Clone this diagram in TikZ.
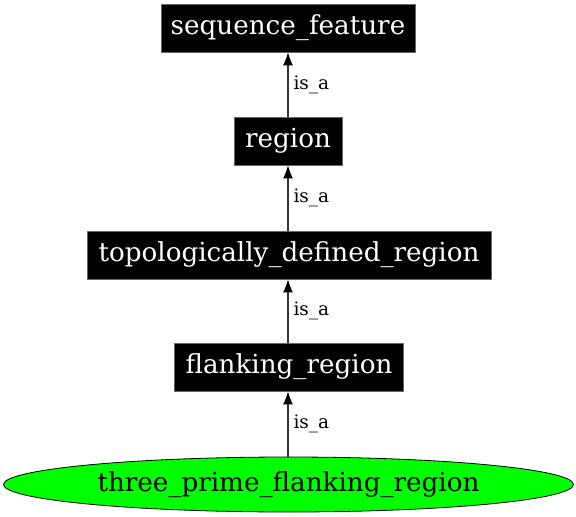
\documentclass[tikz,border=0pt]{standalone}
\usepackage{fontspec}
\setmainfont{DejaVu Serif}
\usetikzlibrary{arrows.meta,shapes.geometric}
\begin{document}
\begin{tikzpicture}[x=1pt,y=-1pt,
  termbox/.style={rectangle,fill=black,draw=black!60,line width=0.8pt,text=white,inner sep=0pt,minimum height=48pt,font=\fontsize{26.2}{30}\selectfont},
  termell/.style={ellipse,fill=green,draw=black,line width=0.8pt,inner sep=0pt,minimum width=570pt,minimum height=55pt,font=\fontsize{26.2}{30}\selectfont},
  isa/.style={draw=black!80,line width=1.1pt,-{Latex[length=13pt,width=10pt,color=black]}},
  elabel/.style={anchor=west,inner sep=0pt,font=\fontsize{18.5}{22}\selectfont}]
\useasboundingbox (0,0) rectangle (576,517);
\node[termbox,minimum width=254pt] (sf) at (288,28) {sequence\_feature};
\node[termbox,minimum width=108pt] (reg) at (288,141) {region};
\node[termbox,minimum width=404pt] (topo) at (289,255) {topologically\_defined\_region};
\node[termbox,minimum width=229pt] (flank) at (289,367) {flanking\_region};
\node[termell] (tpf) at (288.5,484.5) {three\_prime\_flanking\_region};
\draw[isa] (reg) -- node[elabel,xshift=5pt] {is\_a} (sf);
\draw[isa] (topo.north -| reg.south) -- node[elabel,xshift=5pt] {is\_a} (reg);
\draw[isa] (flank.north -| reg.south) -- node[elabel,xshift=5pt] {is\_a} (topo.south -| reg.south);
\draw[isa] (tpf.north -| reg.south) -- node[elabel,xshift=5pt] {is\_a} (flank.south -| reg.south);
\end{tikzpicture}
\end{document}
